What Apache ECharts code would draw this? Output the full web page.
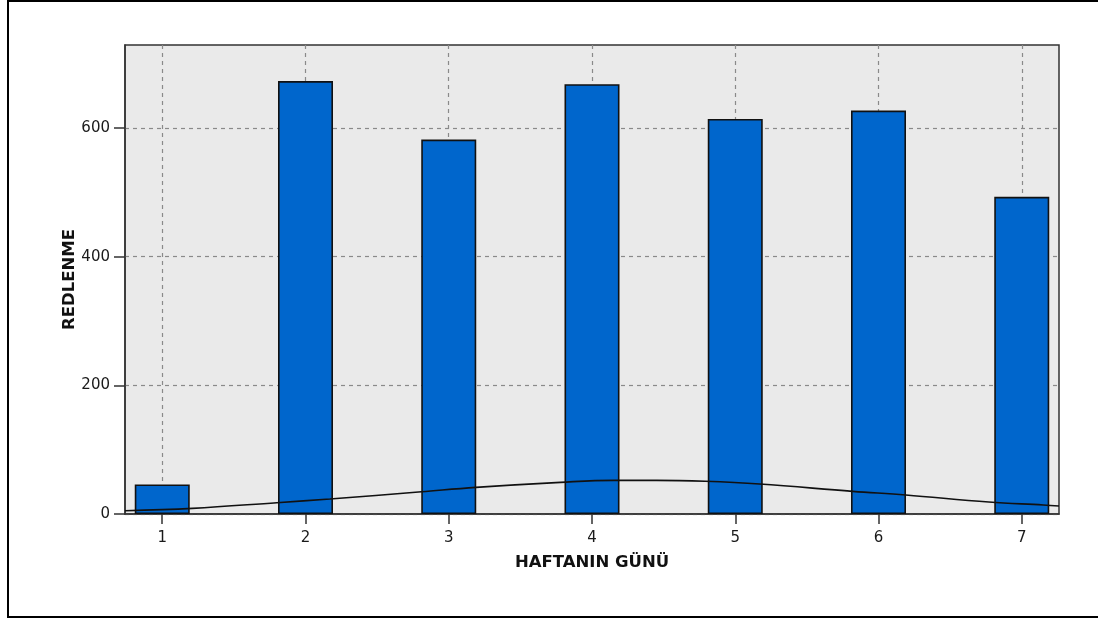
<!DOCTYPE html>
<html><head><meta charset="utf-8">
<script src="https://cdn.jsdelivr.net/npm/echarts@6/dist/echarts.min.js"></script>
<style>html,body{margin:0;padding:0;background:#fff}#c{width:1098px;height:619px}</style>
</head><body><div id="c"></div>
<script>
const days = [1, 2, 3, 4, 5, 6, 7];
const counts = [46, 673, 582, 668, 614, 627, 493];
const yTicks = [0, 200, 400, 600];
const curveX = [0.74, 1.21, 1.80, 2.17, 2.81, 3.19, 3.78, 4.15, 4.45, 4.79, 5.17, 5.82, 6.19, 6.77, 7.15, 7.26];
const curveY = [5.1, 8.8, 17.6, 23.3, 34.6, 41.4, 49.2, 52.3, 52.3, 50.8, 46.6, 35.2, 29.5, 18.6, 14.0, 12.4];

const chart = echarts.init(document.getElementById('c'), null, {renderer: 'canvas'});
const labelFont = {fontFamily: 'DejaVu Sans', fontSize: 15, color: '#1a1a1a'};
const nameFont = {fontFamily: 'DejaVu Sans', fontSize: 16.5, fontWeight: 'bold', color: '#111'};
chart.setOption({
  animation: false,
  backgroundColor: '#fff',
  graphic: [{
    type: 'rect', silent: true,
    shape: {x: 8, y: 1, width: 1100, height: 616},
    style: {fill: 'none', stroke: '#000', lineWidth: 2}
  }],
  grid: {
    left: 125, top: 45, right: 39, bottom: 105,
    show: true, backgroundColor: '#eaeaea', borderColor: '#333', borderWidth: 1.5,
    outerBoundsMode: 'none'
  },
  xAxis: {
    type: 'value', min: 0.74, max: 7.26,
    name: 'HAFTANIN GÜNÜ', nameLocation: 'middle', nameGap: 40, nameTextStyle: nameFont,
    axisLine: {show: true, lineStyle: {color: '#333', width: 1.5}},
    axisTick: {show: true, length: 10, inside: false, customValues: days, lineStyle: {color: '#333', width: 1.5}},
    axisLabel: Object.assign({margin: 17, customValues: days}, labelFont),
    splitLine: {show: true, lineStyle: {color: '#8a8a8a', width: 1.2, type: [4, 4]}}
  },
  yAxis: {
    type: 'value', min: 0, max: 729,
    name: 'REDLENME', nameLocation: 'middle', nameGap: 47, nameRotate: 90, nameTextStyle: nameFont,
    nameMoveOverlap: false,
    axisLine: {show: true, lineStyle: {color: '#333', width: 1.5}},
    axisTick: {show: true, length: 11, inside: false, customValues: yTicks, lineStyle: {color: '#333', width: 1.5}},
    axisLabel: Object.assign({margin: 15, customValues: yTicks}, labelFont),
    splitLine: {show: true, lineStyle: {color: '#8a8a8a', width: 1.2, type: [4, 4]}}
  },
  series: [{
    type: 'bar',
    data: days.map((d, i) => [d, counts[i]]),
    barWidth: 55,
    itemStyle: {color: '#0066cc', borderColor: '#111', borderWidth: 1.6}
  }, {
    type: 'line',
    data: curveX.map((x, i) => [x, curveY[i]]),
    smooth: 0.4, showSymbol: false, symbol: 'none', clip: true,
    lineStyle: {color: '#111', width: 1.6}
  }]
});
</script>
</body></html>
